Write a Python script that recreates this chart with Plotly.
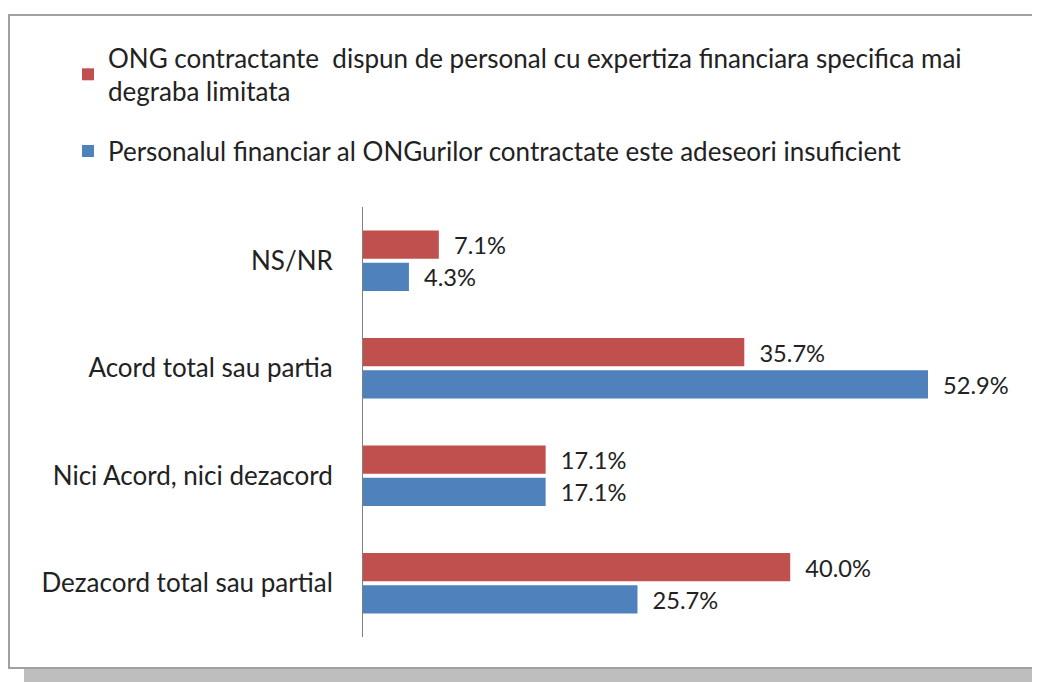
import plotly.graph_objects as go

categories = ["NS/NR", "Acord total sau partia", "Nici Acord, nici dezacord", "Dezacord total sau partial"]
series_names = [
    "ONG contractante  dispun de personal cu expertiza financiara specifica mai<br>degraba limitata",
    "Personalul financiar al ONGurilor contractate este adeseori insuficient",
]
red_values = [7.1, 35.7, 17.1, 40.0]
blue_values = [4.3, 52.9, 17.1, 25.7]
colors = ["#C0504D", "#4F81BD"]

OFF = 8  # page body margin
W, H = 1040 - OFF, 682 - OFF
# screen coordinates of plot area
SL, SR, ST, SB = 363, 1000, 207, 637
L, T = SL - OFF, ST - OFF
R, B = W - (SR - OFF), H - (SB - OFF)
pw, ph = W - L - R, H - T - B
xmax = pw / (565 / 52.9)

def px(x):  # screen x -> paper
    return (x - OFF - L) / pw

def py(y):  # screen y -> paper
    return (H - B - (y - OFF)) / ph

FONT = "Lato, 'Open Sans', sans-serif"
NB = "\u00a0\u00a0"

fig = go.Figure()
for name, vals, col, grp in [(series_names[0], red_values, colors[0], "a"), (series_names[1], blue_values, colors[1], "b")]:
    fig.add_trace(go.Bar(
        y=categories, x=vals, orientation="h", name=name,
        marker=dict(color=col, line=dict(width=0)),
        text=[f"{NB}{v:.1f}%" for v in vals], textposition="outside",
        textfont=dict(family=FONT, size=25, color="#222222"),
        cliponaxis=False, legendgroup=grp,
    ))

shapes = [
    dict(type="rect", xref="paper", yref="paper", x0=px(24), x1=px(1040), y0=py(682), y1=py(668),
         fillcolor="#BEBEBE", line=dict(width=0), layer="below"),
    dict(type="rect", xref="paper", yref="paper", x0=px(1033), x1=px(1040), y0=py(682), y1=py(30),
         fillcolor="#8C8C8C", line=dict(width=0), layer="below"),
    dict(type="rect", xref="paper", yref="paper", x0=px(9), x1=px(1034), y0=py(668), y1=py(15),
         fillcolor="white", line=dict(color="#A0A0A0", width=2), layer="below"),
]

fig.update_layout(
    width=W, height=H,
    margin=dict(l=L, r=R, t=T, b=B),
    paper_bgcolor="white", plot_bgcolor="rgba(0,0,0,0)",
    barmode="group", bargap=0.40, bargroupgap=0.12,
    showlegend=True,
    legend=dict(x=px(68), y=py(34), xanchor="left", yanchor="top",
                font=dict(family=FONT, size=26, color="#222222"),
                bgcolor="rgba(0,0,0,0)", traceorder="grouped", tracegroupgap=23,
                itemwidth=30),
    shapes=shapes,
    font=dict(family=FONT),
)
fig.update_xaxes(range=[0, xmax], visible=False, showgrid=False, zeroline=False)
fig.update_yaxes(autorange="reversed", showline=True, linecolor="#7F7F7F", linewidth=1,
                 ticks="", ticklabelstandoff=24, showgrid=False,
                 tickfont=dict(family=FONT, size=26, color="#222222"))

fig.write_html("out.html")
